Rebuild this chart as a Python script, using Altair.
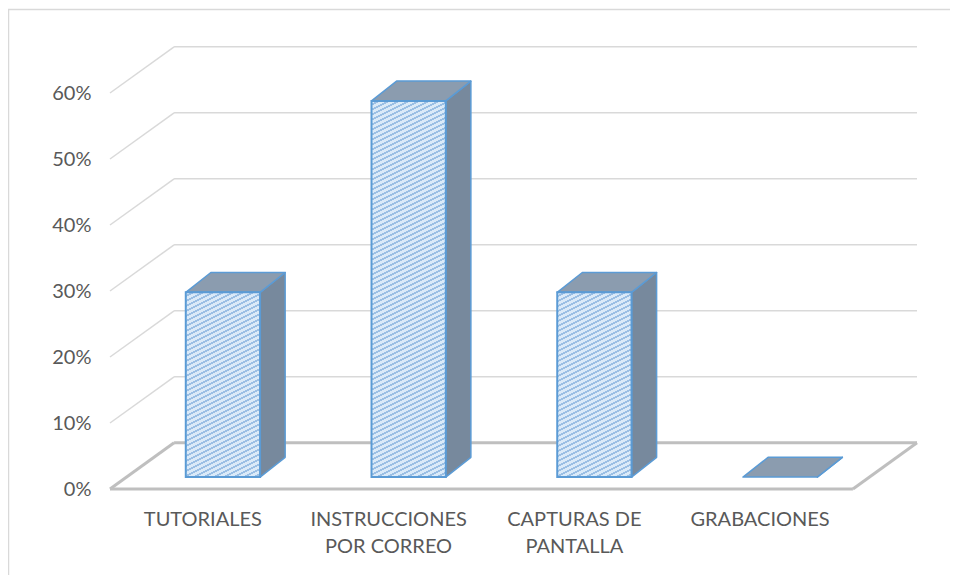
import altair as alt
import pandas as pd

# ---------------- data ----------------
categories = ["TUTORIALES", "INSTRUCCIONES POR CORREO", "CAPTURAS DE PANTALLA", "GRABACIONES"]
label_lines = ["TUTORIALES", "INSTRUCCIONES\nPOR CORREO", "CAPTURAS DE\nPANTALLA", "GRABACIONES"]
values = [0.28, 0.57, 0.28, 0.0]
y_ticks = [0.0, 0.1, 0.2, 0.3, 0.4, 0.5, 0.6]

# ---------------- geometry (oblique 3D projection) ----------------
N = len(categories)
DX, DY = 0.345, 0.07      # depth of the floor / walls
SX, SY = 0.108, 0.018     # offset of the bar front face into the depth
BW = 0.40                 # bar width (category units)
BDX, BDY = 0.135, 0.030   # bar depth

W, H = 807, 462
PAD_L, PAD_T, PAD_R, PAD_B = 102, 19, 33, 86
Y_MAX = 0.70
PX_X = W / (N + DX)
PX_Y = H / Y_MAX

xs = alt.Scale(domain=[0, N + DX], nice=False, zero=False)
ys = alt.Scale(domain=[0, Y_MAX], nice=False, zero=False)

bars = pd.DataFrame({"cat": categories, "label": label_lines,
                     "i": list(range(N)), "v": values})
ticks = pd.DataFrame({"t": y_ticks})
edges = pd.DataFrame({
    "xa": [0, 0, DX, N],
    "ya": [0, 0, DY, 0],
    "xb": [N, DX, N + DX, N + DX],
    "yb": [0, DY, DY, DY],
})

GRID = "#d9d9d9"
FLOOR = "#bfbfbf"
BLUE = "#5b9bd5"
SIDE = "#77899d"
TOP = "#8b9caf"
TXT = "#595959"
HATCH_LIGHT = "#dbeaf8"
HATCH_DARK = "#9bbfe4"


def hatch(h_px, w_px, slope=0.5, period=5.0, dark=0.4):
    """Diagonal hatch ('/') as a linear gradient in bounding-box units."""
    r = slope * w_px / h_px
    b = (1 + r) / (1 + r * r)
    a = r * b
    dt = period * b / (h_px * (a * a + b * b))
    stops = []
    t = 0.0
    while t < 1.0:
        m = min(t + dt * (1 - dark), 1.0)
        e = min(t + dt, 1.0)
        stops += [{"offset": t, "color": HATCH_LIGHT}, {"offset": m, "color": HATCH_LIGHT},
                  {"offset": m, "color": HATCH_DARK}, {"offset": e, "color": HATCH_DARK}]
        t = e
    return {"gradient": "linear", "x1": 0, "y1": 0, "x2": a, "y2": b, "stops": stops}


# border of the chart area
border = alt.Chart(pd.DataFrame({"a": [0]})).mark_rect(
    filled=False, stroke=GRID, strokeWidth=1.5
).encode(
    x=alt.value(-PAD_L + 0.5), x2=alt.value(W + 200),
    y=alt.value(-PAD_T + 1.5), y2=alt.value(H + 300),
)

# left wall diagonals (carry the y axis)
left_wall = alt.Chart(ticks).transform_calculate(
    xa="0", xb=str(DX), yb=f"datum.t + {DY}"
).mark_rule(color=GRID, strokeWidth=1.5).encode(
    x=alt.X("xa:Q", scale=xs, axis=None),
    x2="xb:Q",
    y=alt.Y("t:Q", scale=ys, axis=alt.Axis(
        values=y_ticks, format=".0%", title=None, domain=False, ticks=False,
        grid=False, labelPadding=19)),
    y2="yb:Q",
    opacity=alt.condition("datum.t > 0", alt.value(1), alt.value(0)),
)

# back wall gridlines
back_wall = alt.Chart(ticks).transform_filter("datum.t > 0").transform_calculate(
    xa=str(DX), xb=str(N + DX), yb=f"datum.t + {DY}"
).mark_rule(color=GRID, strokeWidth=1.5).encode(
    x=alt.X("xa:Q", scale=xs, axis=None), x2="xb:Q",
    y=alt.Y("yb:Q", scale=ys), y2="yb:Q",
)

# floor outline
floor = alt.Chart(edges).mark_rule(color=FLOOR, strokeWidth=3).encode(
    x=alt.X("xa:Q", scale=xs, axis=None), x2="xb:Q",
    y=alt.Y("ya:Q", scale=ys), y2="yb:Q",
)

side = alt.Chart(bars).transform_calculate(k="[0, 1]").transform_flatten(["k"]).transform_calculate(
    sx=f"datum.i + 0.5 + {SX} + {BW / 2} + datum.k * {BDX}",
    st=f"datum.v + {SY} + datum.k * {BDY}",
    sb=f"{SY} + datum.k * {BDY}",
).mark_area(orient="vertical", fill=SIDE, stroke=BLUE, strokeWidth=1.5, strokeJoin="round").encode(
    x=alt.X("sx:Q", scale=xs, axis=None),
    y=alt.Y("st:Q", scale=ys), y2="sb:Q",
    detail="cat:N",
)

top = alt.Chart(bars).transform_calculate(k="[0, 1]").transform_flatten(["k"]).transform_calculate(
    ty=f"datum.v + {SY} + datum.k * {BDY}",
    tx1=f"datum.i + 0.5 + {SX} - {BW / 2} + datum.k * {BDX}",
    tx2=f"datum.i + 0.5 + {SX} + {BW / 2} + datum.k * {BDX}",
).mark_area(orient="horizontal", fill=TOP, stroke=BLUE, strokeWidth=1.5, strokeJoin="round").encode(
    y=alt.Y("ty:Q", scale=ys),
    x=alt.X("tx1:Q", scale=xs, axis=None), x2="tx2:Q",
    detail="cat:N",
)

fronts = []
for idx, val in enumerate(values):
    if val <= 0:
        continue
    fronts.append(
        alt.Chart(bars).transform_filter(f"datum.i == {idx}").transform_calculate(
            fx1=f"datum.i + 0.5 + {SX} - {BW / 2}",
            fx2=f"datum.i + 0.5 + {SX} + {BW / 2}",
            fy1=str(SY),
            fy2=f"datum.v + {SY}",
        ).mark_rect(fill=hatch(val * PX_Y, BW * PX_X), stroke=BLUE, strokeWidth=2).encode(
            x=alt.X("fx1:Q", scale=xs, axis=None), x2="fx2:Q",
            y=alt.Y("fy1:Q", scale=ys), y2="fy2:Q",
        )
    )

labels = alt.Chart(bars).transform_calculate(
    cx="datum.i + 0.5"
).mark_text(align="center", baseline="top", lineBreak="\n", font="Lato",
            fontSize=20, color=TXT, lineHeight=27).encode(
    x=alt.X("cx:Q", scale=xs, axis=None),
    y=alt.value(H + 21),
    text="label:N",
)

chart = alt.layer(border, left_wall, back_wall, floor, side, top, *fronts, labels).properties(
    width=W, height=H,
    autosize=alt.AutoSizeParams(type="none"),
    padding={"left": PAD_L, "top": PAD_T, "right": PAD_R, "bottom": PAD_B},
    background="white",
).configure_view(stroke=None).configure_axis(
    labelFont="Lato", labelFontSize=20, labelColor=TXT
)

chart.save("out.html", embed_options={"renderer": "svg", "actions": False})
